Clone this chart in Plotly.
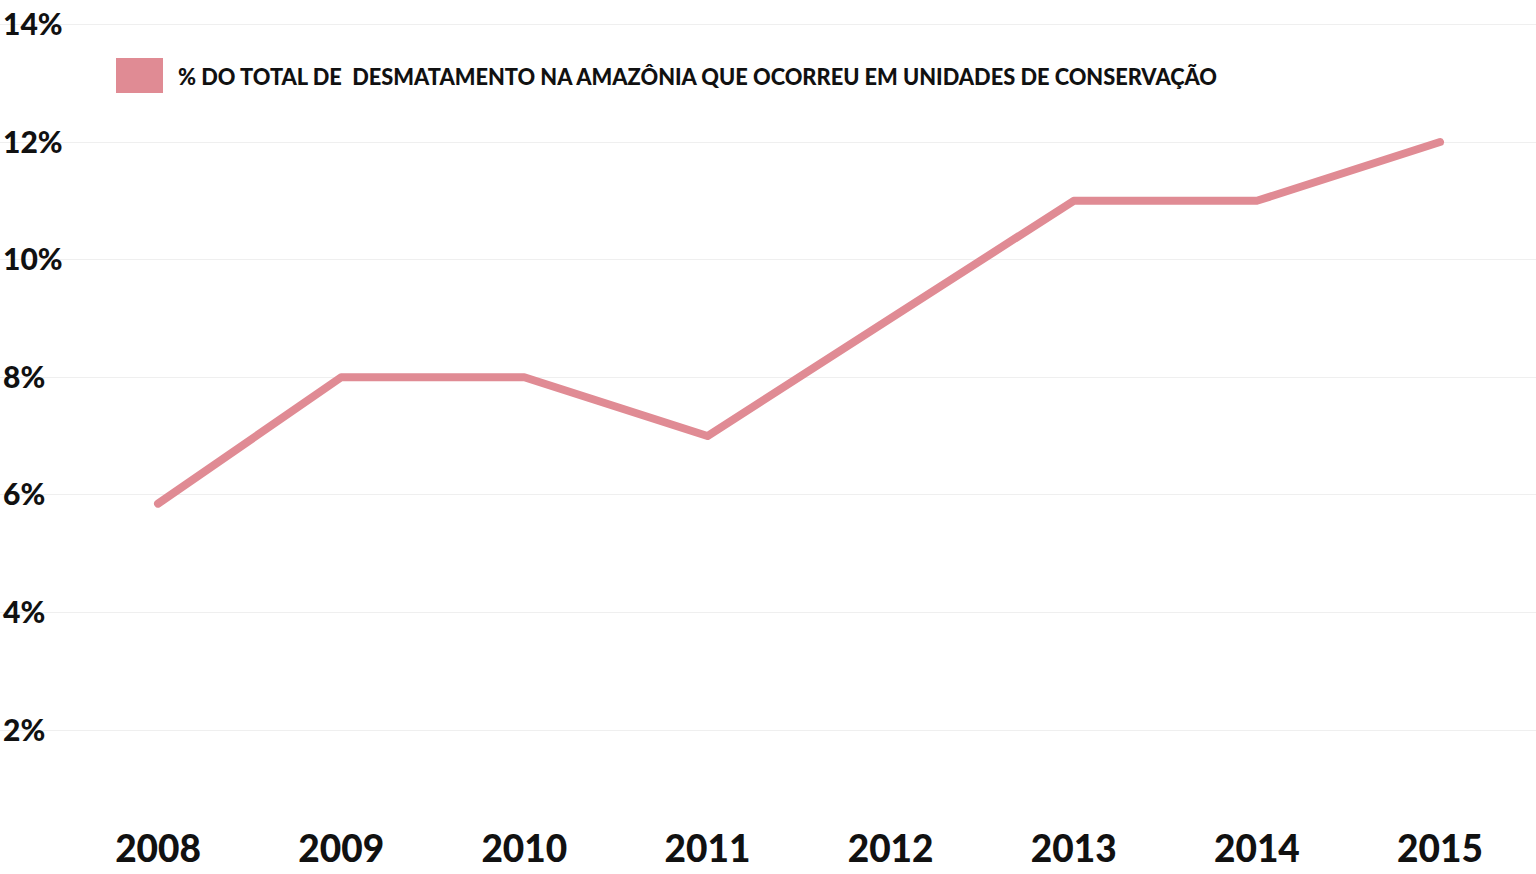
import plotly.graph_objects as go

years = [2008, 2009, 2010, 2011, 2012, 2013, 2014, 2015]
pct_uc = [5.85, 8, 8, 7, 9, 11, 11, 12]
y_ticks = [2, 4, 6, 8, 10, 12, 14]
y_tick_labels = ["2%", "4%", "6%", "8%", "10%", "12%", "14%"]
legend_label = "% DO TOTAL DE\u00a0 DESMATAMENTO NA AMAZÔNIA QUE OCORREU EM UNIDADES DE CONSERVAÇÃO"
line_color = "#e08b94"
font_family = "Lato, 'Open Sans', sans-serif"

fig = go.Figure()
fig.add_trace(go.Scatter(
    x=years, y=pct_uc, mode="lines",
    line=dict(color=line_color, width=8),
    showlegend=False, hoverinfo="x+y",
))

fig.update_layout(
    width=1536, height=874,
    margin=dict(l=0, r=0, t=0, b=74),
    paper_bgcolor="white", plot_bgcolor="white",
    font=dict(family=font_family, color="#111111"),
    xaxis=dict(
        range=[2007.137, 2015.524],
        tickmode="array", tickvals=years, ticktext=[str(y) for y in years],
        showgrid=False, zeroline=False, showline=False, ticks="",
        tickfont=dict(size=37, family=font_family, weight=900, color="#111111"),
        ticklabelstandoff=24,
        fixedrange=True,
    ),
    yaxis=dict(
        range=[0.81, 14.415],
        tickmode="array", tickvals=y_ticks, ticktext=y_tick_labels,
        showgrid=True, gridcolor="#efefef", gridwidth=1,
        zeroline=False, showline=False, ticks="",
        ticklabelposition="inside",
        tickfont=dict(size=30, family=font_family, weight=900, color="#111111"),
        fixedrange=True,
    ),
    shapes=[dict(
        type="rect", xref="paper", yref="paper",
        x0=116/1536, x1=163/1536, y0=1-93/800, y1=1-58/800,
        fillcolor=line_color, line=dict(width=0),
    )],
    annotations=[dict(
        text=legend_label, xref="paper", yref="paper",
        x=176/1536, y=1-77/800, xanchor="left", yanchor="middle",
        showarrow=False,
        font=dict(size=21.8, family=font_family, weight=900, color="#111111"),
    )],
)

post = (
    "document.body.style.margin='0';"
    "document.querySelectorAll('.js-line').forEach(function(p){"
    "p.style.strokeLinecap='round';p.style.strokeLinejoin='round';});"
)
fig.write_html("out.html", post_script=post, config={"displayModeBar": False})
